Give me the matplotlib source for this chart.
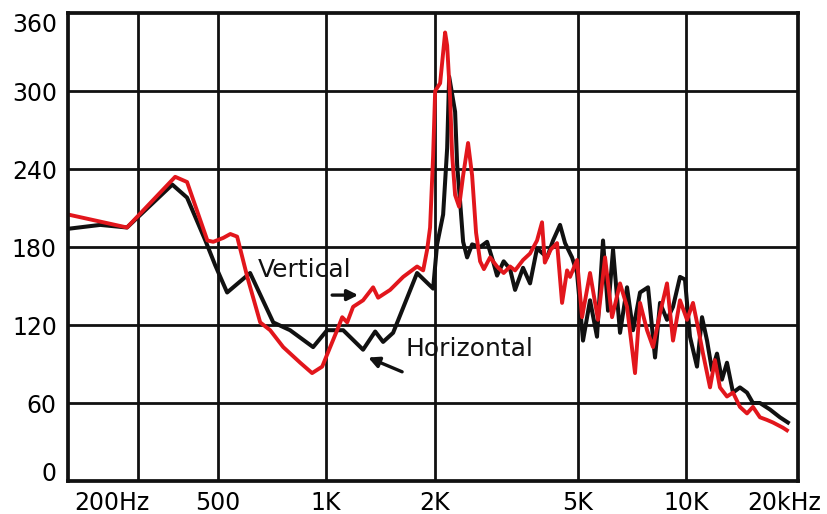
#!/usr/bin/env python3
# plot.py - horizontal / vertical response curves

import matplotlib
matplotlib.use("Agg")
import matplotlib.pyplot as plt
from matplotlib.transforms import ScaledTranslation

# Horizontal (black) curve: frequency in Hz, level
horiz_freq = [192, 236, 280, 374, 411, 462, 492, 531, 615, 713, 794, 920,
              1006, 1115, 1266, 1368, 1439, 1534, 1788, 1981, 2032, 2112,
              2167, 2195, 2280, 2310, 2354, 2400, 2462, 2542, 2675, 2797,
              2906, 2981, 3110, 3240, 3345, 3520, 3681, 3849, 4104, 4264,
              4459, 4604, 4814, 4971, 5164, 5401, 5647, 5869, 6060, 6257,
              6543, 6842, 7110, 7435, 7825, 8183, 8448, 8834, 9180, 9599,
              9909, 10230, 10700, 11050, 11410, 11780, 12160, 12550, 12960,
              13470, 14080, 14730, 15300, 16000, 17060, 18180, 19130]
horiz_level = [194, 197, 195, 228, 218, 185, 166, 145, 160, 122, 116, 103,
               116, 116, 101, 115, 107, 114, 160, 148, 182, 205,
               256, 311, 284, 243, 215, 184, 172, 182, 180, 184,
               169, 158, 169, 163, 147, 164, 152, 179, 172, 185,
               197, 183, 172, 160, 108, 139, 111, 185, 131, 178,
               114, 149, 116, 145, 149, 95, 137, 124, 134, 157,
               155, 111, 88, 126, 108, 85, 98, 78, 91,
               68, 72, 68, 60, 60, 55, 49, 45]

# Vertical (red) curve
vert_freq = [192, 280, 381, 411, 468, 486, 518, 542, 566, 604, 656, 699,
             760, 847, 914, 975, 1026, 1080, 1108, 1144, 1188, 1266, 1350,
             1394, 1505, 1636, 1788, 1859, 1907, 1943, 1981, 2007, 2072,
             2139, 2167, 2208, 2237, 2280, 2339, 2400, 2477, 2542, 2607,
             2675, 2741, 2851, 2981, 3110, 3240, 3345, 3520, 3681, 3849,
             3974, 4046, 4200, 4375, 4517, 4664, 4753, 4971, 5133, 5401,
             5683, 5945, 6217, 6543, 6842, 7201, 7435, 7775, 8080, 8448,
             8834, 9180, 9599, 10040, 10430, 10770, 11120, 11630, 12000,
             12390, 12960, 13470, 14080, 14730, 15300, 16000, 16730, 17390,
             18530, 19010]
vert_level = [205, 195, 234, 230, 185, 184, 187, 190, 188, 157, 122, 116,
              103, 91, 83, 88, 103, 118, 126, 122, 134, 139, 149,
              141, 147, 157, 165, 162, 178, 195, 250, 300, 306,
              345, 335, 295, 251, 220, 211, 235, 260, 235, 191,
              169, 163, 172, 165, 160, 165, 162, 170, 175, 185,
              199, 168, 178, 183, 137, 162, 157, 170, 126, 160,
              124, 172, 126, 152, 134, 83, 137, 116, 103, 129,
              152, 108, 139, 124, 137, 118, 98, 72, 93,
              72, 65, 68, 57, 52, 57, 49, 47, 45,
              41, 39]

# axis ticks
x_label_pos = [200, 500, 1000, 2000, 5000, 10000, 20000]
x_labels = ["200Hz", "500", "1K", "2K", "5K", "10K", "20kHz"]
x_grid = [300, 500, 1000, 2000, 5000, 10000]
y_ticks = [0, 60, 120, 180, 240, 300, 360]

RED = "#e2161c"
INK = "#111111"


def plot():
    plt.rcParams['font.family'] = ['DejaVu Sans']
    fig = plt.figure(figsize=(8.28, 5.14), dpi=100)
    ax = fig.add_axes([0.0821, 0.0642, 0.8816, 0.9105])

    # grid drawn by hand (log minor ticks would drop the ones on labels)
    for f in x_grid:
        ax.axvline(f, color=INK, lw=2.0, zorder=1)
    for v in y_ticks[1:-1]:
        ax.axhline(v, color=INK, lw=2.0, zorder=1)

    ax.plot(horiz_freq, horiz_level, color=INK, lw=2.9, solid_joinstyle='round', zorder=3)
    ax.plot(vert_freq, vert_level, color=RED, lw=2.8, solid_joinstyle='round', zorder=4)

    ax.set_xscale('log')
    ax.set_xlim(192, 20400)
    ax.set_ylim(0, 360)

    ax.set_xticks(x_label_pos)
    ax.set_xticklabels(x_labels)
    ax.xaxis.set_minor_locator(plt.NullLocator())
    ax.set_yticks(y_ticks)
    ax.set_yticklabels([str(v) for v in y_ticks])

    ax.tick_params(which='both', length=0)
    ax.tick_params(axis='x', labelsize=17, pad=7)
    ax.tick_params(axis='y', labelsize=17, pad=8)
    for sp in ax.spines.values():
        sp.set_linewidth(2.7)
        sp.set_color(INK)
        sp.set_zorder(5)

    # end labels sit inside the frame like the original
    xl = ax.get_xticklabels()
    xl[0].set_ha('left')
    xl[-1].set_transform(xl[-1].get_transform()
                         + ScaledTranslation(-0.11, 0, fig.dpi_scale_trans))
    yl = ax.get_yticklabels()
    yl[0].set_va('baseline')
    yl[-1].set_va('top')

    arrow = dict(arrowstyle='-|>', lw=2.4, color=INK, mutation_scale=16,
                 shrinkA=0, shrinkB=0)
    ax.text(874, 162, "Vertical", fontsize=18, ha='center', va='center', color=INK)
    ax.annotate("", xy=(1227, 143), xytext=(1039, 143), arrowprops=arrow)
    ax.text(1657, 101.5, "Horizontal", fontsize=18, ha='left', va='center', color=INK)
    ax.annotate("", xy=(1308, 95), xytext=(1625, 84), arrowprops=arrow)

    fig.savefig("out.png", dpi=100)


def main():
    plot()


if __name__ == "__main__":
    main()
